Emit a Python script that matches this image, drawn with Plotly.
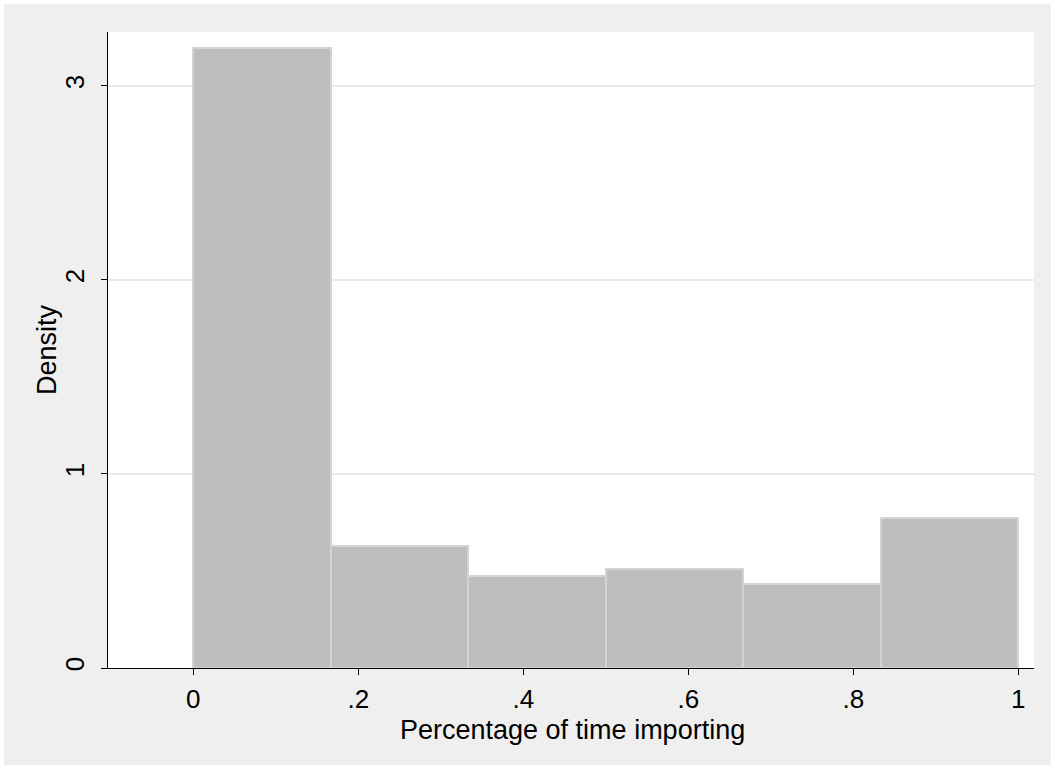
import plotly.graph_objects as go

bin_edges = [0, 1/6, 2/6, 3/6, 4/6, 5/6, 1]
densities = [3.196, 0.629, 0.474, 0.510, 0.433, 0.775]
x_tickvals = [0, 0.2, 0.4, 0.6, 0.8, 1]
x_ticktext = ["0", ".2", ".4", ".6", ".8", "1"]
y_tickvals = [0, 1, 2, 3]
y_ticktext = ["0", "1", "2", "3"]
x_title = "Percentage of time importing"
y_title = "Density"

centers = [(a + b) / 2 for a, b in zip(bin_edges[:-1], bin_edges[1:])]
widths = [b - a for a, b in zip(bin_edges[:-1], bin_edges[1:])]

W, H = 1055, 769
L, R, T, B = 108, 21, 32, 101
pw, ph = W - L - R, H - T - B

fig = go.Figure()
fig.add_trace(go.Bar(
    x=centers, y=densities, width=widths,
    marker=dict(color="#BEBEBE", line=dict(color="#D4D4D4", width=2)),
    hoverinfo="skip",
))

font = dict(family="Liberation Sans, Arial, sans-serif", size=27, color="black")
tfont = dict(family="Liberation Sans, Arial, sans-serif", size=26, color="black")

fig.update_layout(
    width=W, height=H,
    margin=dict(l=L, r=R, t=T, b=B, pad=0),
    paper_bgcolor="#EFEFEF",
    plot_bgcolor="white",
    showlegend=False,
    bargap=0,
    font=font,
    xaxis=dict(
        range=[-0.1034, 1.019],
        tickvals=x_tickvals, ticktext=x_ticktext,
        showgrid=False, zeroline=False,
        showline=True, linecolor="black", linewidth=1,
        ticks="outside", ticklen=6, tickcolor="black", tickwidth=1,
        ticklabelstandoff=2,
        tickfont=tfont,
    ),
    yaxis=dict(
        range=[0, 3.278],
        tickvals=y_tickvals, ticktext=y_ticktext,
        showgrid=True, gridcolor="#EAEAEA", gridwidth=2,
        zeroline=False,
        showline=True, linecolor="black", linewidth=1,
        ticks="outside", ticklen=6, tickcolor="black", tickwidth=1,
        tickangle=-90,
        ticklabelstandoff=7,
        tickfont=tfont,
    ),
    annotations=[
        dict(text=x_title, xref="paper", yref="paper",
             x=(572 - L) / pw, y=-(730 - (H - B)) / ph,
             xanchor="center", yanchor="middle", showarrow=False, font=font),
        dict(text=y_title, xref="paper", yref="paper",
             x=(47 - L) / pw, y=0.5, textangle=-90,
             xanchor="center", yanchor="middle", showarrow=False, font=font),
    ],
    shapes=[dict(
        type="rect", xref="paper", yref="paper", layer="above",
        x0=-L / pw, x1=(W - L) / pw,
        y0=-B / ph, y1=(H - B) / ph,
        fillcolor="rgba(0,0,0,0)", line=dict(color="white", width=8),
    )],
)

fig.write_html("out.html", config={"displayModeBar": False},
               post_script="document.body.style.margin='0px';")
